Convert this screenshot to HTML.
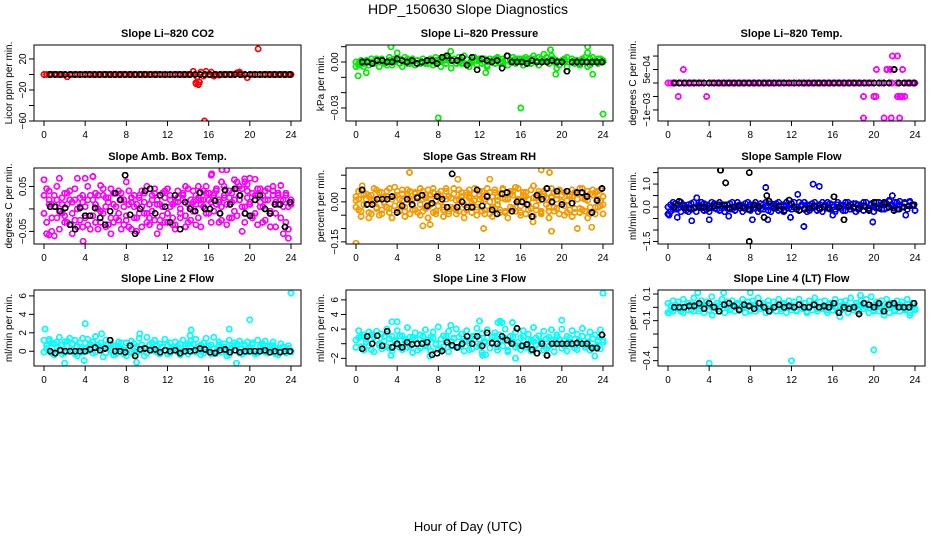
<!DOCTYPE html>
<html><head><meta charset="utf-8">
<style>
html,body{margin:0;padding:0;background:#fff;}
svg{display:block;font-family:"Liberation Sans",Arial,sans-serif;}
</style></head>
<body>
<svg id="chart" width="936" height="540" viewBox="0 0 936 540" xmlns="http://www.w3.org/2000/svg">
<rect x="0" y="0" width="936" height="540" fill="#fff"/>
<text x="468" y="14" text-anchor="middle" font-size="14">HDP_150630  Slope Diagnostics</text>
<text x="468" y="531" text-anchor="middle" font-size="13">Hour of Day (UTC)</text>
</svg>
<script>
// ---------- data ----------
const xTicks = [0,4,8,12,16,20,24];
const panelTitles = ["Slope Li\u2013820 CO2","Slope Li\u2013820 Pressure","Slope Li\u2013820 Temp.","Slope Amb. Box Temp.","Slope Gas Stream RH","Slope Sample Flow","Slope Line 2 Flow","Slope Line 3 Flow","Slope Line 4 (LT) Flow"];
const yTitles = ["Licor ppm per min.","kPa per min.","degrees C per min.","degrees C per min.","percent per min.","ml/min per min.","ml/min per min.","ml/min per min.","ml/min per min."];
const yRanges = [[-60,38],[-0.0385,0.0111],[-0.00141,0.00141],[-0.078,0.091],[-0.158,0.127],[-1.61,1.70],[-1.6,6.64],[-3.05,7.35],[-0.44,0.13]];
const yTickVals = [[20,0,-20,-40,-60],[0.01,0,-0.01,-0.02,-0.03],[0.001,0.0005,0,-0.0005,-0.001],[0.05,0,-0.05],[0.1,0.05,0,-0.05,-0.1,-0.15],[1.5,1,0.5,0,-0.5,-1,-1.5],[6,4,2,0],[6,4,2,0,-2],[0.1,0,-0.1,-0.2,-0.3,-0.4]];
const yTickLabels = [["20","","\u221220","","\u221260"],["","0.00","","","\u22120.03"],["","5e\u221204","","","\u22121e\u221203"],["0.05","","\u22120.05"],["","","0.00","","","\u22120.15"],["","1.0","","0.0","","","\u22121.5"],["6","4","2","0"],["6","4","2","","\u22122"],["0.1","","\u22120.1","","","\u22120.4"]];
const seriesColors = ["#ff0000","#00ee00","#ff00ff","#ff00ff","#f59a00","#0000ff","#00ffff","#00ffff","#00ffff"];

// CO2
const co2A = [0,0,0,0,0,0,0,0,0,-3,0,0,0,0,0,0,0,0,0,0,0,0,0,0,0,0,0,0,0,0,0,0,0,0,0,0,0,0,0,0,0,0,0,0,0,0,0,0,0,0,0,0,0,0,0,0,0,0,4,-11,-13,3,-2,4,0,3,-2,0,-1,0,0,0,0,0,0,2,3,0,0,-4,0,0,0,0,0,0,0,0,0,0,0,0,0,0,0,0,0];
const co2OutHrs = [15.6,20.8,14.8,15.1,14.9,16.6,19.0];
const co2OutVals = [-60,33,-12,-10,-3,-1,1];
const co2Black = [0,0,0,0,0,0,0,0,0,0,0,0,0,0,0,0,0,0,0,0,0,0,0,0,0,0,0,0,0,0,0,0,0,0,0,0,0,0,0,0,0,0,0,0,0,0,0,0,0];
// Pressure
const presA = [-0.003,-0.002,0.001,-0.001,0.001,0,0.002,-0.001,0.001,0,0.002,-0.001,0,0.003,0.001,0.002,0.006,0.002,0.001,0.003,-0.001,0.001,0.002,-0.002,0.001,0,0.002,-0.001,0.001,0.002,0,0.003,0.001,0.002,0.001,0.004,0.003,0.001,0.002,0.001,0.003,-0.001,0.004,0.002,-0.001,0.001,0.003,0.001,0.002,-0.001,0,-0.002,0.002,0.001,0.002,0.003,0,0.002,0.001,0.004,0.001,0.003,0.002,0.001,0.002,0.002,0.003,0.002,0.001,0.004,0,0.003,0.002,0.005,0.003,0.001,0.004,0.002,0.001,-0.002,0.001,0.002,0.003,0,0.002,0.001,0.001,-0.001,0.002,0.003,0.006,-0.002,0.003,0.001,0.002,0,0.001];
const presB = [0,-0.001,0,-0.003,0.001,-0.002,0,-0.001,0.002,-0.003,0.001,0,-0.002,0.001,-0.002,0,0.001,-0.001,-0.003,0,0.002,-0.001,0,-0.002,0.001,-0.001,0.002,0,-0.001,0.001,-0.002,0.001,0,-0.003,0.002,-0.001,0.001,-0.004,0.002,-0.001,0,0.001,-0.001,0.002,-0.003,0,0.001,-0.002,0.001,-0.001,0.002,-0.003,0,0.001,-0.001,0.002,-0.001,0,0.001,-0.002,0,0.001,-0.001,0.002,0,-0.002,0.001,0,-0.001,0.002,0.001,-0.002,0,0.001,0.003,-0.001,0.002,0,-0.004,-0.002,0,0.001,-0.003,0,0.002,-0.001,0.001,-0.002,0.001,0,-0.003,0.002,0,0.001,-0.001,0.002,0];
const presOutHrs = [8.0,16.0,24.0,3.4,22.5,9.2,18.9,0.2,1.0,19.4,12.6,23.0];
const presOutVals = [-0.0365,-0.030,-0.034,0.010,0.010,0.007,0.008,-0.009,-0.007,-0.008,-0.007,-0.008];
const presBlack = [0,0,-0.001,0.001,0.001,0,0,0.002,0.001,0,0.001,-0.001,0,0.001,0.001,-0.001,0.003,0.004,0.001,0.001,0.003,-0.002,0.003,-0.005,0.002,0.001,0,0.001,-0.004,0.004,0,0,0,-0.001,0.001,0,0,0,0.001,0,0,-0.006,0,0,0,0,0,0,0];
// Temp
const tempA = [0,0,0,0,-0.0005,0,0.0005,0,0,0,0,0,0,0,0,-0.0005,0,0,0,0,0,0,0,0,0,0,0,0,0,0,0,0,0,0,0,0,0,0,0,0,0,0,0,0,0,0,0,0,0,0,0,0,0,0,0,0,0,0,0,0,0,0,0,0,0,0,0,0,0,0,0,0,0,0,0,0,-0.0005,0,0,0,-0.0005,0.0005,0,0,0,0.0005,0,0,0.0005,0,-0.0005,-0.0005,0,0,0,0,0];
const tempOutHrs = [19.0,21.0,21.7,22.5,21.8,22.3,21.3,22.8,22.3,22.6,23.0,20.2,21.6,22.0,22.7];
const tempOutVals = [-0.0013,-0.0013,-0.0013,-0.0013,0.001,0.001,0.0005,0.0005,-0.0005,-0.0005,-0.0005,-0.0005,0.0005,0.0005,-0.0005];
const tempBlack = [0,0,0,0,0,0,0,0,0,0,0,0,0,0,0,0,0,0,0,0,0,0,0,0,0,0,0,0,0,0,0,0,0,0,0,0,0,0,0,0,0,0,0,0,0.0005,0,0,0,0];
// Amb box temp
const ambA = [0.065,0.045,0.01,-0.02,0.03,0.02,0.068,-0.01,0.035,-0.03,0.04,0.015,-0.025,0.068,0.005,-0.04,0.068,0.02,-0.015,0.072,-0.03,0.03,0.052,-0.01,0.025,-0.035,0.045,0.01,-0.02,0.04,-0.045,0.02,0.06,-0.04,0.015,0.03,-0.05,0.025,0.04,-0.01,0.05,-0.02,0.03,0.045,-0.055,0.01,0.035,-0.03,0.045,0.02,-0.035,0.015,0.04,-0.02,0.03,0.05,-0.03,0.02,0.04,-0.035,0.05,0.02,0.02,0.035,-0.01,0.075,0.03,0.04,-0.03,0.06,0.05,0.087,0.025,-0.02,0.065,0.045,0.03,-0.05,0.06,0.04,0.068,-0.015,0.066,0.03,0.045,-0.03,0.04,0.02,-0.04,0.05,-0.01,0.035,0.052,-0.055,0.03,-0.065,0.01];
const ambB = [-0.01,-0.03,0.02,-0.05,0.005,-0.02,-0.045,0.01,-0.015,0.035,-0.035,-0.01,0.02,-0.04,0.025,0.015,-0.02,-0.035,0.03,-0.015,0.01,-0.045,-0.005,0.03,-0.04,0.015,-0.02,-0.03,0.035,-0.01,0.02,-0.035,-0.015,0.01,-0.045,0.005,-0.02,0.03,-0.04,0.015,-0.01,-0.035,0.02,-0.025,0.01,-0.04,-0.015,0.025,-0.03,0.005,-0.02,-0.035,0.015,-0.01,0.02,-0.04,0.01,-0.025,-0.005,0.03,-0.02,0.01,0.04,-0.01,0.02,-0.03,0.035,0.01,0.015,-0.025,0.03,0.01,-0.02,0.035,0.02,-0.015,0.05,0.005,-0.03,0.025,0.01,-0.02,0.03,-0.035,0.015,0.005,-0.025,0.02,-0.01,0.03,-0.04,0.01,-0.02,0.02,-0.03,0.005,0.015];
const ambC = [0.03,-0.055,0.04,0.01,-0.06,0.05,-0.005,0.025,-0.03,0.01,0.02,-0.055,0.045,0,-0.025,0.03,0.005,0.05,-0.045,0.02,0.035,0,-0.03,0.045,0.005,0.025,-0.055,0.035,0.005,-0.025,0.035,0.005,-0.025,0.04,0.025,-0.02,0.01,-0.01,0.005,0.035,-0.03,0.01,-0.005,0.035,0.02,-0.025,0.005,0.04,-0.01,0.03,0.01,-0.045,0.025,0,0.035,-0.015,0.045,0.005,0.015,0.01,0.025,-0.04,0.005,0.05,0.035,0.015,-0.005,0.045,0.02,0.005,0.025,-0.035,0.04,0.015,-0.005,0.06,0.02,0.045,0.005,0.055,0.015,0.035,-0.01,0.045,0.005,0.03,0.02,0.045,-0.005,0.04,0.015,0.03,0.02,0.005,0.035,-0.045,0.02];
const ambOutHrs = [0.5,1.0,3.8,16.3,17.3,19.5];
const ambOutVals = [-0.058,-0.06,-0.072,0.078,0.087,0.067];
const ambBlack = [0.005,0.005,-0.005,0.002,-0.035,-0.045,0.002,-0.015,-0.015,0.002,-0.02,-0.035,-0.005,0.035,0.02,0.075,-0.013,-0.055,0.0,0.04,0.045,-0.01,0.03,0.005,-0.03,0.03,-0.045,0.015,0.0,-0.005,0.036,0.0,0.0,0.018,-0.01,0.042,0.01,0.045,0.03,-0.01,-0.015,0.02,0.03,0.0,-0.01,0.01,0.01,-0.04,0.015];
// RH
const rhA = [0.02,-0.03,0.045,-0.01,0.03,-0.04,0.01,0.05,-0.02,0.035,-0.045,0.015,0.04,-0.025,0.02,0.055,-0.03,0.01,0.045,-0.035,0.025,0.04,-0.015,0.03,-0.04,0.05,0.01,-0.025,0.045,-0.01,0.035,-0.045,0.02,0.04,-0.02,0.05,-0.035,0.015,0.03,-0.03,0.045,0.005,-0.04,0.035,0.02,-0.015,0.05,-0.03,0.01,0.04,-0.045,0.025,0.035,-0.02,0.045,-0.01,0.03,0.05,-0.035,0.015,0.04,-0.025,0.055,0.01,-0.04,0.035,0.02,-0.03,0.045,0.06,-0.015,0.03,-0.045,0.04,0.015,-0.02,0.05,-0.035,0.025,0.04,-0.01,0.035,-0.04,0.02,0.045,-0.025,0.03,0.05,-0.03,0.01,0.04,-0.045,0.025,0.035,-0.02,0.045,-0.01];
const rhB = [-0.02,0.01,-0.035,0.025,-0.01,0.02,-0.045,0.005,-0.025,0.015,-0.03,-0.005,0.02,-0.04,0.01,-0.015,0.025,-0.035,0.005,-0.02,0.015,-0.045,0.01,-0.03,0.02,-0.01,-0.035,0.015,-0.02,0.025,-0.04,0.005,-0.015,0.02,-0.03,0.01,-0.045,0.015,-0.025,0.005,-0.035,0.02,-0.01,-0.03,0.015,-0.04,0.005,-0.02,0.025,-0.035,0.01,-0.015,-0.045,0.02,-0.025,0.005,-0.03,0.015,-0.04,0.01,-0.02,0.025,-0.035,0.005,-0.015,0.02,-0.045,0.01,-0.025,0.015,-0.03,0.005,-0.04,0.02,-0.01,-0.035,0.015,-0.02,0.01,-0.045,0.025,-0.015,0.005,-0.03,0.02,-0.04,0.01,-0.025,0.015,-0.035,0.005,-0.02,0.025,-0.045,0.01,-0.015,0.02];
const rhC = [0.005,0.04,-0.055,0.03,0.01,-0.06,0.025,-0.005,0.045,-0.05,0.035,0.0,-0.02,0.05,-0.06,0.02,0.04,-0.01,0.03,-0.055,0.045,0.005,-0.03,0.035,0.015,-0.05,0.04,0.025,-0.06,0.01,0.05,-0.035,0.03,0.0,-0.055,0.04,0.02,-0.02,0.05,-0.045,0.01,0.035,-0.06,0.025,0.045,-0.005,0.03,-0.05,0.04,0.015,-0.03,0.05,0.0,-0.055,0.035,0.02,-0.04,0.045,0.01,-0.06,0.03,0.04,-0.02,0.05,-0.05,0.025,0.035,-0.01,0.045,-0.055,0.015,0.04,-0.035,0.03,0.05,-0.06,0.02,0.035,-0.025,0.045,0.0,-0.05,0.04,0.025,-0.055,0.035,0.01,-0.04,0.05,0.02,-0.06,0.03,0.045,-0.02,0.04,0.005,-0.045];
const rhOutHrs = [0.0,5.2,18.0,18.8,19.0,21.5,12.4,22.9,6.5,7.2,17.2,13.0,0.6,9.9];
const rhOutVals = [-0.155,0.11,0.12,0.11,-0.11,-0.1,-0.1,-0.095,-0.09,-0.085,-0.075,0.085,0.06,0.085];
const rhBlack = [0.045,-0.01,-0.01,0.01,0.01,0.01,0.02,-0.04,-0.015,0.01,-0.01,0.015,0.025,-0.015,-0.005,0.02,0.01,-0.02,0.105,-0.02,0.0,-0.02,-0.02,0.045,-0.015,0.02,-0.03,-0.045,0.03,0.035,-0.035,0.0,0.0,-0.01,-0.055,0.025,0.01,0.05,0.0,0.04,-0.01,0.04,-0.005,0.035,0.035,0.02,-0.04,0.005,0.05];
// Sample flow
const sfA = [-0.3,0.1,-0.1,0.15,-0.05,0.2,0.05,-0.15,0.1,-0.1,0.2,0.0,0.1,-0.05,0.15,-0.1,0.05,0.2,-0.05,0.1,-0.15,0.05,0.1,-0.05,0.15,-0.1,0.0,0.2,-0.05,0.05,0.15,-0.1,0.1,-0.05,0.2,0.05,-0.1,0.1,0.0,-0.15,0.15,0.05,-0.05,0.2,-0.1,0.1,0.05,-0.05,0.15,0.0,-0.1,0.2,0.05,-0.05,0.1,-0.15,0.15,0.0,0.05,-0.1,0.2,0.1,-0.05,0.15,0.0,-0.1,0.1,0.05,-0.15,0.2,0.0,0.1,-0.05,0.15,-0.1,0.05,0.2,0.0,-0.1,0.15,0.05,-0.05,0.2,0.1,-0.1,0.15,0.25,0.05,-0.05,0.2,0.1,0.0,0.15,-0.1,0.25,0.05,-0.15];
const sfB = [0.0,-0.2,0.2,-0.1,0.1,-0.2,0.1,0.0,-0.2,0.15,-0.05,-0.2,0.05,0.2,-0.15,0.1,-0.2,0.0,0.15,-0.1,0.2,-0.05,-0.2,0.1,-0.1,0.2,-0.15,0.05,0.1,-0.2,0.0,0.2,-0.15,0.1,-0.05,-0.2,0.15,-0.1,0.2,0.05,-0.2,0.0,0.15,-0.15,0.05,-0.2,0.2,0.1,-0.1,0.2,0.0,-0.15,0.1,0.2,-0.2,0.05,-0.05,0.2,-0.15,0.1,-0.2,0.0,0.2,-0.1,0.1,-0.2,0.2,-0.05,0.1,-0.15,0.2,-0.1,0.15,-0.2,0.1,0.0,-0.15,0.2,-0.05,0.1,-0.2,0.2,0.0,-0.1,0.15,-0.05,0.3,0.1,0.2,-0.1,0.25,0.0,0.2,-0.1,0.2,0.1,-0.15];
const sfOutHrs = [2.3,4.0,8.2,9.5,13.2,14.1,14.7,19.9,23.1,12.6,2.8,5.9,9.7,11.9,16.0,21.8,0.1,0.9];
const sfOutVals = [-0.6,-0.55,-0.55,0.85,-0.85,1.0,0.9,-0.65,-0.35,0.55,0.4,-0.4,-0.55,-0.45,-0.35,0.5,-0.35,-0.45];
const sfBlack = [0.0,0.25,-0.05,-0.05,-0.05,0.0,0.0,-0.05,0.05,0.1,0.1,-0.05,0.0,0.05,-0.05,-0.1,0.1,0.0,-0.45,0.25,-0.05,0.05,-0.15,0.3,0.0,-0.15,-0.1,-0.05,0.05,-0.05,0.0,-0.05,0.45,0.0,-0.55,0.05,0.0,-0.05,0.05,-0.15,0.2,-0.05,0.2,0.0,-0.15,-0.1,0.0,0.05,0.1];
const sfBlackOutHrs = [5.1,5.6,7.9,7.9,9.6];
const sfBlackOutVals = [1.6,1.05,1.5,-1.5,0.5];
// Line 2 flow
const l2A = [1.2,0.3,1.3,-0.2,0.8,0.4,1.5,-0.3,1.0,0.6,1.4,0.1,1.2,-0.5,0.9,1.4,0.2,1.3,0.7,-0.2,1.6,0.4,0.9,-0.6,1.2,0.3,0.8,-0.4,0.6,1.0,0.2,-0.3,0.9,0.4,1.1,-0.2,0.5,1.4,0.2,-0.5,1.5,0.7,0.3,1.2,-0.1,0.8,0.5,1.3,-0.3,0.9,0.2,1.0,0.6,-0.4,1.2,0.3,0.8,1.1,0.0,1.3,0.5,-0.4,0.9,1.4,0.1,0.7,1.5,-0.2,1.0,0.4,0.8,-0.5,1.2,0.3,0.9,0.6,1.1,-0.3,0.7,1.0,0.2,0.9,-0.3,1.2,0.5,0.8,1.1,-0.2,0.6,1.0,0.3,-0.4,0.8,0.5,0.2,0.6,0.0];
const l2B = [-0.1,0.6,0.1,0.9,-0.4,1.0,0.2,0.7,-0.2,1.1,0.0,0.8,-0.3,0.5,0.3,-0.1,0.9,0.0,0.4,1.0,-0.1,0.7,0.3,0.5,-0.2,0.8,0.1,0.6,-0.3,0.4,0.9,0.1,-0.5,0.6,-0.1,0.8,0.3,0.0,0.7,0.4,-0.2,0.2,0.9,0.0,0.6,-0.3,0.4,0.1,0.7,-0.2,0.5,0.3,-0.1,0.8,0.0,0.6,-0.3,0.4,0.8,-0.1,0.2,0.7,-0.2,0.4,0.6,-0.3,0.3,0.0,0.7,-0.1,0.5,0.2,-0.4,0.6,0.1,0.8,-0.2,0.3,0.6,-0.1,0.4,0.7,0.0,-0.2,0.6,0.3,-0.1,0.5,0.2,0.6,-0.3,0.3,0.0,0.4,-0.2,0.3,-0.1];
const l2OutHrs = [0.1,4.0,20.0,24.0,18.0,14.3,5.6,9.3,2.0,9.0,18.7,0.5,14.2,3.9];
const l2OutVals = [2.4,3.0,3.4,6.3,2.4,2.3,1.9,1.9,-1.3,-1.2,-1.3,1.1,1.7,-1.0];
const l2Black = [0.0,-0.2,0.1,0.0,0.0,0.0,0.0,0.0,0.2,0.4,0.1,0.3,1.2,0.0,0.0,-0.1,0.6,-0.5,0.2,0.3,0.1,0.2,-0.1,0.1,0.0,0.1,-0.2,0.0,0.0,0.1,0.3,0.2,-0.1,-0.2,0.1,0.2,-0.1,0.1,-0.1,0.0,0.0,0.0,0.0,0.1,-0.1,0.0,-0.1,0.0,0.0];
// Line 3 flow
const l3A = [0.5,1.8,-0.4,1.2,0.2,1.6,-0.8,0.9,1.7,-0.2,1.3,0.4,2.0,-0.6,1.0,0.3,1.8,-0.5,1.1,0.6,2.2,-0.3,0.8,1.5,-0.9,1.2,0.2,1.9,-0.4,0.9,1.6,0.0,2.3,-0.7,1.1,0.5,1.7,-0.3,0.8,2.0,-0.5,1.3,0.3,1.8,-0.8,1.0,0.6,2.1,-0.2,1.4,0.1,1.9,-0.6,0.9,1.5,-0.4,1.2,0.4,2.0,-0.9,1.0,0.2,1.6,-0.3,0.8,1.8,-0.5,1.3,0.5,2.2,-0.2,1.1,0.3,1.7,-0.7,0.9,1.9,-0.4,1.2,0.6,2.0,-0.3,1.0,0.2,1.8,-0.6,1.3,0.4,2.1,-0.2,0.9,1.6,-0.5,1.2,0.3,1.9,0.5];
const l3B = [-0.5,0.8,1.0,-0.9,0.6,-0.3,1.2,-1.1,0.4,0.0,-0.7,1.0,-0.4,0.7,-1.0,0.5,-0.2,1.1,-0.8,0.3,-0.5,0.9,-1.2,0.6,0.0,-0.6,1.0,-0.3,0.5,-1.0,0.8,-0.1,-0.8,0.6,-0.4,1.0,-1.1,0.3,0.7,-0.5,0.9,-0.2,-1.0,0.5,0.1,-0.7,1.1,-0.4,0.6,-1.2,0.3,0.8,-0.6,0.0,1.0,-0.9,0.4,-0.3,0.7,-1.1,0.5,0.9,-0.5,0.2,-0.8,1.0,-0.2,0.6,-1.0,0.3,0.8,-0.6,0.1,-0.9,0.7,-0.3,0.5,-1.1,0.9,0.0,-0.6,0.4,-1.0,0.8,-0.2,0.6,-0.8,0.3,1.0,-0.5,0.2,-0.9,0.7,-0.4,0.5,-0.7,0.2];
const l3OutHrs = [24.0,20.0,3.5,4.0,12.0,14.0,15.5,7.2,12.3,23.2,3.4,9.2,15.2,13.8,14.2,12.6];
const l3OutVals = [6.9,3.2,3.0,3.0,3.1,3.1,-2.0,-1.7,-1.6,-1.7,-1.6,2.5,2.9,2.9,2.9,-1.5];
const l3Black = [-0.7,1.0,0.0,1.1,-0.3,1.7,-0.5,0.0,-0.5,0.2,-0.1,0.0,0.0,0.2,-1.5,-1.3,-1.0,0.2,-0.2,-0.5,0.0,1.0,0.0,1.0,-0.3,1.5,0.1,0.0,1.0,0.5,0.0,2.1,-0.3,-0.1,-0.8,-1.3,0.0,-1.6,0.0,0.0,0.0,0.0,0.0,0.1,0.0,0.0,-0.6,-0.6,1.2];
// Line 4 flow
const l4A = [0.03,-0.02,0.05,0.0,0.04,-0.03,0.06,0.01,0.03,-0.02,0.07,0.02,-0.03,0.05,0.0,0.04,-0.02,0.08,0.01,0.03,-0.03,0.06,0.02,0.04,-0.01,0.05,0.0,0.03,-0.02,0.06,0.01,0.04,-0.03,0.05,0.02,0.07,-0.01,0.03,0.0,0.05,-0.02,0.04,0.01,0.06,-0.03,0.03,0.02,0.05,0.0,0.04,-0.02,0.06,0.01,0.03,-0.03,0.05,0.02,0.07,-0.01,0.04,0.0,0.05,-0.02,0.03,0.01,0.06,-0.03,0.04,0.02,0.05,0.0,0.07,-0.02,0.03,0.01,0.05,-0.01,0.06,0.02,0.08,-0.03,0.04,0.0,0.05,-0.02,0.06,0.01,0.03,-0.03,0.05,0.02,0.04,-0.02,0.06,0.0,0.03,-0.01];
const l4B = [-0.04,0.01,-0.03,0.02,-0.01,0.0,-0.04,0.01,-0.02,0.02,-0.03,0.0,-0.01,0.01,-0.04,0.02,-0.02,0.0,-0.03,0.01,-0.01,0.02,-0.04,0.0,-0.02,0.01,-0.03,0.02,-0.01,0.0,-0.04,0.01,-0.02,0.02,-0.03,0.0,-0.01,0.01,-0.04,0.02,-0.02,0.0,-0.03,0.01,-0.01,0.02,-0.04,0.0,-0.02,0.01,-0.03,0.02,-0.01,0.0,-0.04,0.01,-0.02,0.02,-0.03,0.0,-0.01,0.01,-0.04,0.02,-0.02,0.0,-0.03,0.01,-0.01,0.02,-0.04,0.0,-0.02,0.01,-0.03,0.02,-0.01,0.0,-0.04,0.01,-0.02,0.02,-0.03,0.0,-0.01,0.01,-0.04,0.02,-0.02,0.0,-0.03,0.01,-0.01,0.02,-0.04,0.0,-0.02];
const l4OutHrs = [4.0,12.0,20.0,2.9,5.4,8.0,18.7,0.1,4.3,16.7,21.0,23.5];
const l4OutVals = [-0.42,-0.4,-0.32,0.11,0.11,0.11,0.09,-0.04,-0.06,-0.07,-0.06,-0.06];
const l4Black = [0.0,0.0,0.0,0.01,0.01,0.03,-0.01,0.03,0.0,-0.03,0.02,0.03,0.01,-0.02,0.02,0.01,-0.01,0.03,0.0,-0.03,0.0,0.02,0.0,0.01,0.0,0.02,0.0,0.0,0.02,0.0,0.01,0.0,0.03,-0.04,0.0,-0.01,0.0,-0.05,0.03,0.02,0.0,0.03,-0.03,0.02,0.03,0.0,0.0,0.0,0.03];

const denseSets = [[co2A],[presA,presB],[tempA],[ambA,ambB,ambC],[rhA,rhB,rhC],[sfA,sfB],[l2A,l2B],[l3A,l3B],[l4A,l4B]];
const outHrsSets = [co2OutHrs,presOutHrs,tempOutHrs,ambOutHrs,rhOutHrs,sfOutHrs,l2OutHrs,l3OutHrs,l4OutHrs];
const outValSets = [co2OutVals,presOutVals,tempOutVals,ambOutVals,rhOutVals,sfOutVals,l2OutVals,l3OutVals,l4OutVals];
const blackSets = [co2Black,presBlack,tempBlack,ambBlack,rhBlack,sfBlack,l2Black,l3Black,l4Black];
const blackOutHrsSets = [[],[],[],[],[],sfBlackOutHrs,[],[],[]];
const blackOutValSets = [[],[],[],[],[],sfBlackOutVals,[],[],[]];

// ---------- drawing ----------
const NS = "http://www.w3.org/2000/svg";
const svg = document.getElementById("chart");
const colLeft = [34,346,658], rowTop = [45,168,290], boxW = 267, boxH = 76;
function mk(tag, attrs, parent){ const e = document.createElementNS(NS, tag); for (const k in attrs) e.setAttribute(k, attrs[k]); (parent||svg).appendChild(e); return e; }

for (let p = 0; p < 9; p++) {
  const L = colLeft[p%3], T = rowTop[Math.floor(p/3)];
  const g = mk("g", {});
  
  
  const [ymin, ymax] = yRanges[p];
  const xs = h => L + 10 + h * (247/24);
  const ys = v => T + boxH - (v - ymin) / (ymax - ymin) * boxH;
  const clip = mk("clipPath", {id: "c"+p}, g);
  mk("rect", {x: L, y: T, width: boxW, height: boxH}, clip);
  const t = mk("text", {x: L + boxW/2, y: T - 8, "text-anchor": "middle", "font-size": 11, "font-weight": "bold"}, g);
  t.textContent = panelTitles[p];
  
  
  const yt = mk("text", {x: 0, y: 0, "text-anchor": "middle", "font-size": 10, transform: `translate(${L-22},${T+boxH/2}) rotate(-90)`}, g);
  yt.textContent = yTitles[p];
  
  
  const pts = mk("g", {"clip-path": `url(#c${p})`, fill: "none", "stroke-width": 1.7, "shape-rendering": "crispEdges"}, g);
  
  
  const dot = (h, v, col) => {
    const c = mk("circle", {cx: xs(h).toFixed(1), cy: ys(v).toFixed(1), r: 2.6, stroke: col}, pts);
    
    
  };
  const col = seriesColors[p];
  denseSets[p].forEach(arr => arr.forEach((v, i) => dot(i * 24 / (arr.length - 1), v, col)));
  outHrsSets[p].forEach((h, i) => dot(h, outValSets[p][i], col));
  const bk = blackSets[p];
  bk.forEach((v, i) => dot(0.6 + i * 23.3 / (bk.length - 1), v, "#000"));
  blackOutHrsSets[p].forEach((h, i) => dot(h, blackOutValSets[p][i], "#000"));
  const box = mk("rect", {x: L, y: T, width: boxW, height: boxH, fill: "none", stroke: "#000", "stroke-width": 1}, g);
  
  
  xTicks.forEach(h => {
    const x = xs(h);
    mk("line", {x1: x, x2: x, y1: T+boxH, y2: T+boxH+5, stroke: "#000"}, g);
    const lt = mk("text", {x: x, y: T+boxH+17, "text-anchor": "middle", "font-size": 10}, g);
    lt.textContent = h;
    
    
  });
  yTickVals[p].forEach((v, i) => {
    const y = ys(v);
    mk("line", {x1: L-5, x2: L, y1: y, y2: y, stroke: "#000"}, g);
    const s = yTickLabels[p][i];
    if (s) {
      const lt = mk("text", {x: 0, y: 0, "text-anchor": "middle", "font-size": 10, transform: `translate(${L-8},${y}) rotate(-90)`}, g);
      lt.textContent = s;
      
      
    }
  });
}
</script>
</body></html>
